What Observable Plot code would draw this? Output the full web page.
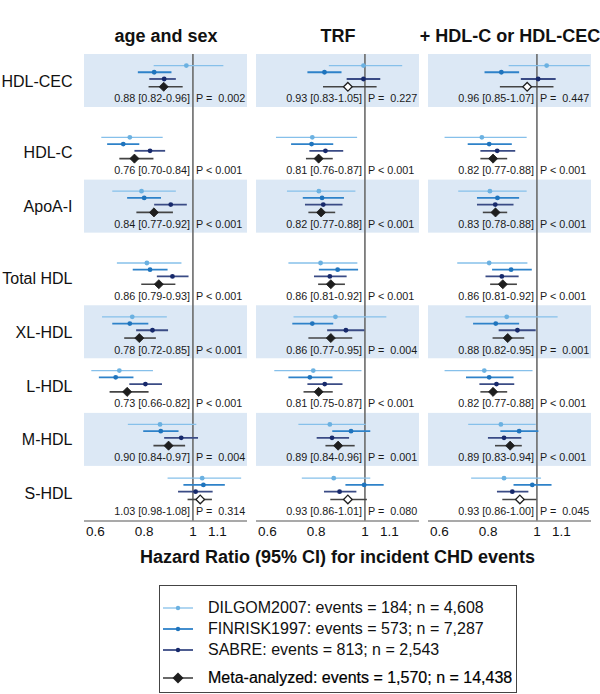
<!DOCTYPE html>
<html>
<head>
<meta charset="utf-8">
<script src="https://cdn.jsdelivr.net/npm/d3@7"></script>
<script src="https://cdn.jsdelivr.net/npm/@observablehq/plot@0.6"></script>
<style>
  body { margin: 0; background: #fff; font-family: "Liberation Sans", Arial, sans-serif; color: #111; }
  #chart svg text { white-space: pre; }
  .xtitle { font-weight: bold; font-size: 18px; text-align: center; padding-left: 83px; padding-right: 8px; height: 30px; line-height: 30px; color: #111; }
  .legend { margin: 13px 0 0 159px; width: 356px; border: 1px solid #444; padding: 11px 0 4px 0; }
  .legend .row { display: flex; align-items: center; height: 21px; font-size: 16px; white-space: nowrap; }
  .legend .row svg { margin-left: 3px; margin-right: 15px; flex: none; }
  .legend .row.meta { margin-top: 7px; color: #000; -webkit-text-stroke: 0.2px #000; }
</style>
</head>
<body>
<div id="chart"></div>
<div class="xtitle" id="xtitle"></div>
<div class="legend" id="legend"></div>
<script>
// ---------- data ----------
const models = ["age and sex", "TRF", "+ HDL-C or HDL-CEC"];
const measures = ["HDL-CEC", "HDL-C", "ApoA-I", "Total HDL", "XL-HDL", "L-HDL", "M-HDL", "S-HDL"];
const measureGroup = [0, 1, 1, 2, 2, 2, 2, 2];
const cohorts = ["DILGOM2007", "FINRISK1997", "SABRE"];
const legendLabels = [
  "DILGOM2007: events = 184; n = 4,608",
  "FINRISK1997: events = 573; n = 7,287",
  "SABRE: events = 813; n = 2,543",
  "Meta-analyzed: events = 1,570; n = 14,438"
];
const xTicks = [0.6, 0.8, 1, 1.1];
const xTitle = "Hazard Ratio (95% CI) for incident CHD events";

// per model (rows) x per measure (columns)
const dilgomHR = [
  [0.973, 0.741, 0.789, 0.811, 0.751, 0.698, 0.865, 1.038],
  [0.994, 0.784, 0.811, 0.818, 0.879, 0.788, 0.856, 0.872],
  [1.040, 0.774, 0.807, 0.804, 0.876, 0.784, 0.852, 0.865]
];
const dilgomLo = [
  [0.841, 0.626, 0.671, 0.690, 0.629, 0.585, 0.735, 0.898],
  [0.854, 0.637, 0.682, 0.688, 0.709, 0.630, 0.729, 0.743],
  [0.886, 0.623, 0.679, 0.675, 0.709, 0.623, 0.720, 0.732]
];
const dilgomHi = [
  [1.127, 0.878, 0.932, 0.955, 0.895, 0.838, 1.016, 1.200],
  [1.155, 0.970, 0.963, 0.971, 1.090, 0.988, 1.005, 1.024],
  [1.219, 0.960, 0.960, 0.963, 1.087, 0.984, 0.997, 1.019]
];
const finriskHR = [
  [0.841, 0.714, 0.800, 0.824, 0.741, 0.683, 0.868, 1.043],
  [0.834, 0.781, 0.824, 0.888, 0.784, 0.774, 0.943, 0.997],
  [0.854, 0.804, 0.838, 0.894, 0.831, 0.804, 0.927, 0.981]
];
const finriskLo = [
  [0.776, 0.650, 0.732, 0.755, 0.671, 0.616, 0.798, 0.963],
  [0.766, 0.699, 0.747, 0.813, 0.704, 0.688, 0.868, 0.922],
  [0.787, 0.718, 0.756, 0.818, 0.740, 0.711, 0.852, 0.906]
];
const finriskHi = [
  [0.914, 0.782, 0.871, 0.898, 0.819, 0.758, 0.943, 1.133],
  [0.906, 0.872, 0.916, 0.974, 0.872, 0.869, 1.024, 1.079],
  [0.929, 0.899, 0.929, 0.981, 0.929, 0.906, 1.008, 1.062]
];
const sabreHR = [
  [0.882, 0.824, 0.909, 0.916, 0.834, 0.805, 0.952, 1.011],
  [0.994, 0.838, 0.829, 0.856, 0.922, 0.835, 0.865, 0.896],
  [1.005, 0.837, 0.829, 0.856, 0.920, 0.834, 0.865, 0.899]
];
const sabreLo = [
  [0.823, 0.762, 0.843, 0.854, 0.769, 0.741, 0.884, 0.941],
  [0.927, 0.774, 0.756, 0.793, 0.847, 0.766, 0.804, 0.834],
  [0.936, 0.770, 0.756, 0.791, 0.845, 0.766, 0.801, 0.838]
];
const sabreHi = [
  [0.932, 0.888, 0.977, 0.984, 0.900, 0.875, 1.023, 1.083],
  [1.065, 0.913, 0.910, 0.927, 1.000, 0.910, 0.937, 0.967],
  [1.079, 0.913, 0.906, 0.927, 0.997, 0.909, 0.938, 0.967]
];
const metaHR = [
  [0.88, 0.76, 0.84, 0.86, 0.78, 0.73, 0.90, 1.03],
  [0.93, 0.81, 0.82, 0.86, 0.86, 0.81, 0.89, 0.93],
  [0.96, 0.82, 0.83, 0.86, 0.88, 0.82, 0.89, 0.93]
];
const metaLo = [
  [0.82, 0.70, 0.77, 0.79, 0.72, 0.66, 0.84, 0.98],
  [0.83, 0.76, 0.77, 0.81, 0.77, 0.75, 0.84, 0.86],
  [0.85, 0.77, 0.78, 0.81, 0.82, 0.77, 0.83, 0.86]
];
const metaHi = [
  [0.96, 0.84, 0.92, 0.93, 0.85, 0.82, 0.97, 1.08],
  [1.05, 0.87, 0.88, 0.92, 0.95, 0.87, 0.96, 1.01],
  [1.07, 0.88, 0.88, 0.92, 0.95, 0.88, 0.94, 1.00]
];
const metaP = [
  ["0.002", "< 0.001", "< 0.001", "< 0.001", "< 0.001", "< 0.001", "0.004", "0.314"],
  ["0.227", "< 0.001", "< 0.001", "< 0.001", "0.004", "< 0.001", "0.001", "0.080"],
  ["0.447", "< 0.001", "< 0.001", "< 0.001", "0.001", "< 0.001", "< 0.001", "0.045"]
];

// ---------- styling / layout ----------
const cohortColor = ["#6bb1e1", "#1f74bd", "#17296b"];
const cohortLine = ["#86c0ea", "#2e82c9", "#3a4b85"];
const cohortWidth = [1.3, 1.8, 1.8];
const metaColor = "#1e1e1e";
const metaLine = "#444";
const bandFill = "#dce8f5";
const groupGap = 0.335;
const rowTop = i => i + groupGap * measureGroup[i];
const total = measures.length + groupGap * measureGroup[measureGroup.length - 1];
const cohortOffset = [0.205, 0.33, 0.455];
const metaOffset = 0.6;
const textOffset = 0.825;
const xDomain = [0.555, 1.224];
const refValue = 1;

const cohortHR = [dilgomHR, finriskHR, sabreHR];
const cohortLo = [dilgomLo, finriskLo, sabreLo];
const cohortHi = [dilgomHi, finriskHi, sabreHi];

const est = [];
const meta = [];
models.forEach((m, mi) => {
  measures.forEach((ms, i) => {
    cohorts.forEach((c, ci) => {
      est.push({model: m, measure: ms, cohort: ci,
        hr: cohortHR[ci][mi][i], lo: cohortLo[ci][mi][i], hi: cohortHi[ci][mi][i],
        y: rowTop(i) + cohortOffset[ci]});
    });
    const p = metaP[mi][i];
    const sig = p.startsWith("<") || parseFloat(p) < 0.01;
    meta.push({model: m, measure: ms, hr: metaHR[mi][i], lo: metaLo[mi][i], hi: metaHi[mi][i],
      sig, y: rowTop(i) + metaOffset, ty: rowTop(i) + textOffset,
      ci: `${metaHR[mi][i].toFixed(2)} [${metaLo[mi][i].toFixed(2)}-${metaHi[mi][i].toFixed(2)}]`,
      p: p.startsWith("<") ? `P ${p}` : `P =  ${p}`});
  });
});
const bands = measures.map((m, i) => ({m, i})).filter(d => d.i % 2 === 0);

const cohortMarks = [];
cohorts.forEach((c, ci) => {
  const data = est.filter(d => d.cohort === ci);
  cohortMarks.push(Plot.ruleY(data, {fx: "model", y: "y", x1: "lo", x2: "hi", stroke: cohortLine[ci], strokeWidth: cohortWidth[ci]}));
  cohortMarks.push(Plot.dot(data, {fx: "model", y: "y", x: "hr", r: 2.4, fill: cohortColor[ci], stroke: "none"}));
});

const plot = Plot.plot({
  width: 600,
  height: 542,
  marginLeft: 83,
  marginRight: 8,
  marginTop: 54,
  marginBottom: 21.5,
  style: {fontFamily: "Liberation Sans, Arial, sans-serif", fontSize: "13.5px", color: "#111", background: "white", overflow: "visible"},
  fx: {domain: models, paddingInner: 0.052, paddingOuter: 0, axis: null, label: null},
  x: {domain: xDomain, ticks: xTicks, tickFormat: d => String(d), tickSize: 0, tickPadding: 5, label: null},
  y: {domain: [0, total], reverse: true, axis: null},
  marks: [
    Plot.rect(bands, {x1: () => xDomain[0], x2: () => xDomain[1], y1: d => rowTop(d.i), y2: d => rowTop(d.i) + 0.985, fill: bandFill}),
    Plot.ruleX([refValue], {y1: 0, y2: total, stroke: "#6a6a6a", strokeWidth: 1.6}),
    Plot.ruleY([total], {stroke: "#555", strokeWidth: 1.1}),
    ...cohortMarks,
    Plot.ruleY(meta, {fx: "model", y: "y", x1: "lo", x2: "hi", stroke: metaLine, strokeWidth: 1.6}),
    Plot.dot(meta.filter(d => d.sig), {fx: "model", y: "y", x: "hr", symbol: "diamond2", r: 4.1, fill: metaColor, stroke: metaColor, strokeWidth: 0.8}),
    Plot.dot(meta.filter(d => !d.sig), {fx: "model", y: "y", x: "hr", symbol: "diamond2", r: 3.9, fill: "white", stroke: metaColor, strokeWidth: 1.3}),
    Plot.text(meta, {fx: "model", y: "ty", x: () => refValue, text: "ci", textAnchor: "end", dx: -3, fontSize: 10.8, fill: "#1a1a1a"}),
    Plot.text(meta, {fx: "model", y: "ty", x: () => refValue, text: "p", textAnchor: "start", dx: 3, fontSize: 10.8, fill: "#1a1a1a"}),
    Plot.text(measures, {fx: () => models[0], y: (d, i) => rowTop(i) + 0.5, text: d => d, frameAnchor: "left", dx: -12, textAnchor: "end", fontSize: 16, fill: "#111"}),
    Plot.text(models, {fx: d => d, text: d => d, frameAnchor: "top", dy: -25, fontSize: 18, fontWeight: "bold", fill: "#111"})
  ]
});
document.getElementById("chart").appendChild(plot);
document.getElementById("xtitle").textContent = xTitle;

// ---------- legend ----------
const legend = document.getElementById("legend");
legendLabels.forEach((lab, i) => {
  const row = document.createElement("div");
  row.className = "row" + (i === 3 ? " meta" : "");
  const isMeta = i === 3;
  const stroke = isMeta ? metaLine : cohortLine[i];
  const fill = isMeta ? metaColor : cohortColor[i];
  const sw = isMeta ? 1.6 : cohortWidth[i];
  const marker = isMeta
    ? `<path d="M15,1.5 L20.5,7 L15,12.5 L9.5,7 Z" fill="${fill}"/>`
    : `<circle cx="15" cy="7" r="2.2" fill="${fill}"/>`;
  row.innerHTML = `<svg width="30" height="14" viewBox="0 0 30 14"><line x1="0" y1="7" x2="30" y2="7" stroke="${stroke}" stroke-width="${sw}"/>${marker}</svg><span>${lab}</span>`;
  legend.appendChild(row);
});
</script>
</body>
</html>
